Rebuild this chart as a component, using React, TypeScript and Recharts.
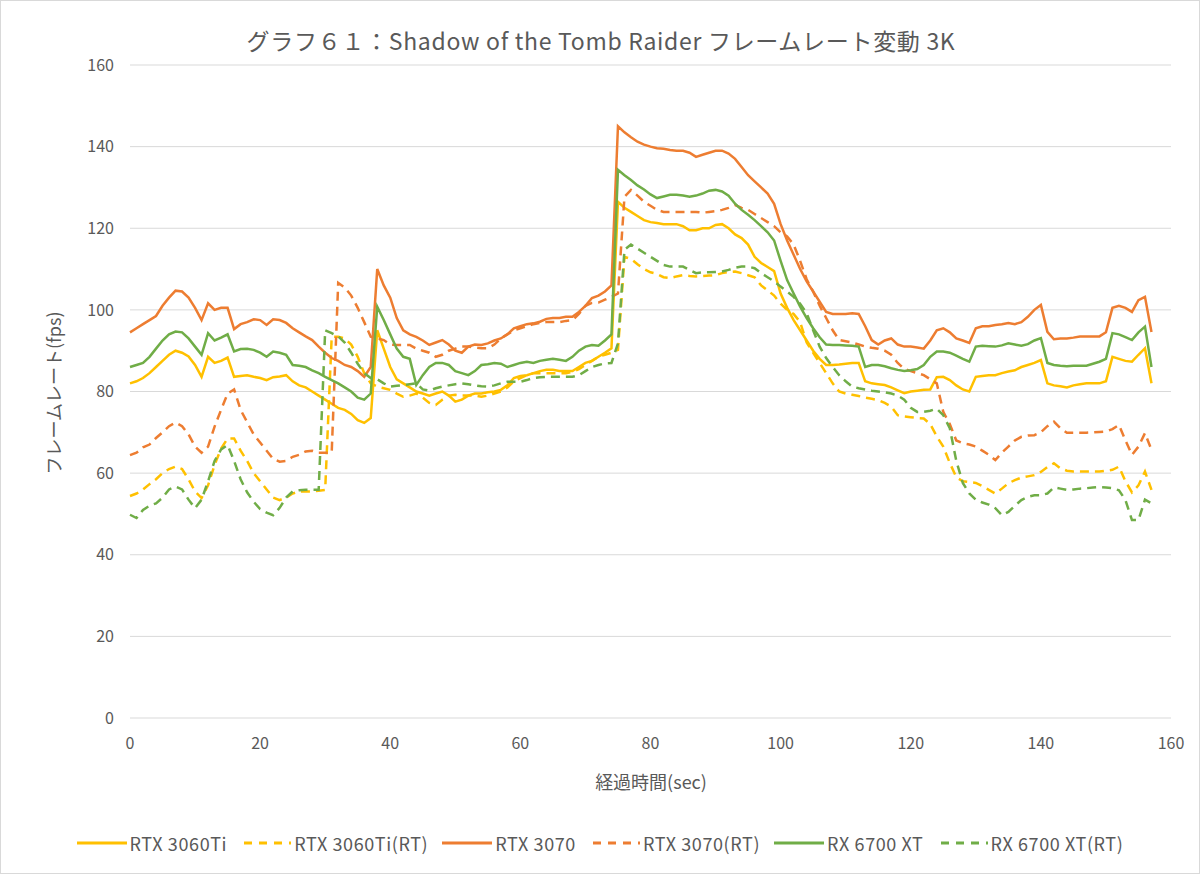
import React from "react";
import { LineChart, Line, XAxis, YAxis, CartesianGrid } from "recharts";

// フレームレート (fps), 1秒ごと 0〜157秒
const RTX3060TI = [
  82, 82.5, 83.3, 84.5, 86, 87.5, 89, 90, 89.5, 88.6, 86.5, 83.6, 88.5, 87, 87.5, 88.3, 83.6, 83.8, 84, 83.6,
  83.3, 82.8, 83.5, 83.7, 84, 82.5, 81.5, 81, 80, 79, 78, 77, 76, 75.5, 74.5, 73, 72.3, 73.5, 95, 90.5,
  86, 83, 82, 81, 80, 79.5, 79, 79.5, 80, 79, 77.5, 78, 79, 79.5, 79.5, 79.8, 80, 80.4, 81.5, 83.3,
  83.8, 84, 84.5, 85, 85.3, 85.3, 85, 85, 85, 86, 87, 87.5, 88.5, 89.5, 90.6, 126.5, 125, 124, 123, 122,
  121.5, 121.3, 121, 121, 121, 120.5, 119.5, 119.5, 120, 120, 120.8, 121, 120, 118.5, 117.6, 116, 113, 111.5, 110.5, 109.5,
  104, 100.5, 97.5, 95, 92.5, 90, 88, 86.5, 86.5, 86.6, 86.8, 87, 87, 82.5, 82, 81.8, 81.6, 81, 80.3, 79.6,
  80, 80.2, 80.4, 80.5, 83.5, 83.6, 82.8, 81.5, 80.5, 80, 83.6, 83.8, 84, 84, 84.5, 84.9, 85.2, 86, 86.5, 87,
  87.7, 82, 81.5, 81.3, 81, 81.5, 81.8, 82, 82, 82, 82.5, 88.5, 88, 87.5, 87.3, 89, 90.6, 82,
];

const RTX3060TI_RT = [
  54.4, 55, 56, 57.3, 58.5, 60, 61, 61.6, 61, 58.5, 55.5, 53.9, 57, 62, 66, 68.5, 68.5, 65.5, 63, 60,
  58, 56, 54, 53.4, 54, 55, 55.5, 55.5, 55.5, 55.7, 55.9, 93.4, 93.4, 93, 91.5, 88.5, 84.5, 82, 81.2, 80.8,
  80.4, 79.5, 78.7, 79, 79.5, 78.5, 77.2, 76.7, 78, 79, 79.2, 79, 79, 79, 78.7, 79, 79.5, 80, 81, 82.5,
  83.3, 84, 84.5, 84.5, 84.5, 84.5, 84.5, 84.5, 84.8, 85.5, 86.5, 87.5, 88.5, 89, 89.5, 90.2, 113, 112.5, 111.2, 110,
  109.2, 108.8, 108, 107.8, 108.2, 108.5, 108.3, 108.2, 108.3, 108.4, 108.5, 109, 109.3, 109.4, 109, 108.5, 108, 106, 104.8, 103.5,
  101.5, 100, 99, 97, 92, 89.5, 87, 84.5, 82, 80, 79.5, 79.2, 78.9, 78.5, 78.2, 77.9, 77.2, 76.3, 74.2, 73.9,
  73.7, 73.5, 73.4, 72, 69, 66.5, 62.5, 59, 58, 57.8, 57.6, 56.8, 55.9, 55, 56.2, 57.5, 58.3, 58.9, 59.2, 59.5,
  60.3, 61.5, 62.4, 61.2, 60.6, 60.4, 60.4, 60.4, 60.4, 60.4, 60.6, 60.8, 61.6, 58, 55.3, 57, 60.4, 55.9,
];

const RTX3070 = [
  94.5, 95.5, 96.5, 97.5, 98.5, 101, 103, 104.7, 104.5, 103, 100.5, 97.5, 101.6, 100, 100.5, 100.5, 95.3, 96.5, 97, 97.7,
  97.5, 96.3, 97.7, 97.5, 96.8, 95.5, 94.5, 93.5, 92.6, 91, 89.5, 88.2, 87.5, 86.5, 86, 85, 83.6, 86, 110, 106,
  103, 98, 95, 94, 93.4, 92.5, 91.4, 92, 92.6, 91.5, 90, 89.5, 91, 91.5, 91.4, 91.8, 92.5, 93, 94, 95.5,
  96, 96.5, 96.7, 97.1, 97.8, 98, 98, 98.3, 98.3, 99.5, 101, 102.9, 103.5, 104.5, 106, 145, 143.5, 142.3, 141.2, 140.5,
  140, 139.6, 139.5, 139.2, 139, 139, 138.5, 137.5, 138, 138.5, 139, 139, 138.3, 137, 135, 133, 131.5, 130, 128.5, 126,
  121, 117, 113.5, 110, 107, 104.5, 102, 99.5, 99, 99, 99, 99.2, 99, 96, 92.6, 91.5, 92.5, 93, 91.5, 91,
  91, 90.8, 90.5, 92.5, 95, 95.5, 94.5, 93, 92.5, 91.9, 95.5, 96, 96, 96.3, 96.5, 96.8, 96.5, 97, 98.3, 100,
  101.2, 94.6, 92.8, 93, 93, 93.2, 93.5, 93.5, 93.5, 93.5, 94.5, 100.5, 101, 100.5, 99.5, 102.4, 103.2, 94.6,
];

const RTX3070_RT = [
  64.4, 65, 66.3, 67, 68.6, 70, 71.5, 72.4, 71.5, 69.5, 66.5, 65, 66.5, 71.4, 75.5, 79.5, 80.5, 75.5, 72.5, 69.5,
  67.5, 65.5, 63.5, 62.8, 63, 64, 64.5, 65.3, 65.5, 65, 65, 65, 106.6, 105.5, 103.5, 100.5, 97, 93.4, 93, 92.6,
  91.5, 91.4, 91.4, 91.4, 90.5, 90, 89.5, 88.5, 89, 90, 90.5, 91, 91, 90.8, 90.6, 90.6, 91.5, 93, 94, 95,
  95.5, 96, 96.5, 96.8, 97, 97, 97, 97.3, 97.5, 99, 101, 101.7, 101.8, 102.5, 103.2, 104, 127.7, 129.4, 128, 126.5,
  125.5, 124.5, 124, 124, 124, 124, 124, 124, 123.8, 124, 124.2, 124.5, 125, 125.7, 125, 124.5, 123.5, 122.5, 121.5, 120.5,
  119, 118, 116, 112, 107.5, 104.5, 101, 98, 95, 92.6, 92.3, 92, 91.5, 91, 90.7, 90.5, 90, 89, 87, 85.5,
  85, 84.5, 84, 83, 82, 75, 72, 68, 67.3, 67, 66.5, 65.5, 64.5, 63.2, 65, 66.5, 68, 68.9, 69.2, 69.3,
  70, 71.5, 72.6, 71, 69.9, 69.9, 69.9, 69.9, 70, 70.1, 70.2, 70.8, 71.8, 68, 64.5, 66.5, 69.8, 65.7,
];

const RX6700XT = [
  86, 86.5, 87, 88.5, 90.5, 92.5, 94, 94.7, 94.5, 93, 91, 89, 94.3, 92.5, 93.2, 94, 89.8, 90.4, 90.5, 90.2,
  89.5, 88.5, 89.8, 89.5, 89, 86.5, 86.3, 86, 85.2, 84.5, 83.6, 82.8, 82, 81, 80, 78.5, 78, 79.5, 100.8, 97.5,
  94, 90.5, 88.5, 88, 81.6, 84, 86, 87, 87, 86.5, 85, 84.5, 84, 85, 86.5, 86.7, 87, 86.8, 86, 86.5,
  87, 87.3, 87, 87.5, 87.8, 88, 87.8, 87.5, 88.5, 90, 91, 91.4, 91.2, 92.5, 94, 134.3, 133, 131.8, 130.5, 129.5,
  128.3, 127.4, 127.8, 128.2, 128.2, 128, 127.7, 128, 128.5, 129.2, 129.4, 129, 128, 126, 124.5, 123.3, 122, 120.5, 119, 117,
  112, 107.3, 104, 100.8, 98, 95.5, 93.3, 91.5, 91.4, 91.4, 91.3, 91.2, 91, 86, 86.5, 86.5, 86.2, 85.7, 85.3, 85,
  85.2, 85.5, 86.5, 88.5, 89.8, 89.8, 89.5, 88.8, 88, 87.3, 91, 91.2, 91.1, 91, 91.3, 91.8, 91.5, 91.2, 91.6, 92.5,
  93.1, 87, 86.5, 86.3, 86.2, 86.3, 86.3, 86.3, 86.8, 87.3, 88, 94.3, 94, 93.3, 92.6, 94.5, 95.9, 86,
];

const RX6700XT_RT = [
  49.8, 49, 51, 52, 52.6, 54, 56, 56.7, 56, 53.5, 51.4, 53.5, 58, 63, 65.8, 66.9, 63, 58.5, 55.3, 53,
  51.2, 50.3, 49.7, 51.5, 54, 55.5, 55.8, 55.9, 55.9, 55.9, 95, 94.3, 93.5, 92, 89.5, 86.8, 84.5, 83.3, 83, 82,
  81.2, 81.4, 81.6, 81.8, 82, 80.5, 80.2, 80.8, 81.2, 81.5, 81.8, 82, 81.8, 81.5, 81.3, 81.2, 81.5, 82, 82.4, 82.4,
  82.4, 82.8, 83.3, 83.5, 83.6, 83.6, 83.6, 83.6, 83.6, 84, 85, 86, 86.5, 86.9, 87, 91.8, 114.7, 116, 115, 114,
  113, 112, 111, 110.6, 110.6, 110.6, 109.8, 109, 109.2, 109.2, 109.3, 109.4, 109.8, 110.3, 110.6, 110.6, 110.2, 109, 108, 107,
  105.7, 104.5, 103.2, 101.5, 99.2, 95, 91, 88.2, 86, 84, 82.5, 81.2, 80.8, 80.5, 80.2, 80, 79.8, 79.5, 79, 78,
  76, 75, 75, 75.3, 75.8, 74.2, 71, 63, 57.6, 55, 53.5, 52.8, 52.3, 51.4, 49.7, 50.5, 52, 53.4, 54.2, 54.6,
  54.6, 55, 56.5, 56.2, 55.9, 56, 56.2, 56.3, 56.5, 56.6, 56.5, 56.3, 55.8, 53.4, 48.5, 48.5, 53.5, 52.6,
];

const X_TICKS = [0, 20, 40, 60, 80, 100, 120, 140, 160];
const Y_TICKS = [0, 20, 40, 60, 80, 100, 120, 140, 160];

const SERIES = [
  { key: "a", name: "RTX 3060Ti", values: RTX3060TI, color: "#FFC000", dashed: false },
  { key: "b", name: "RTX 3060Ti(RT)", values: RTX3060TI_RT, color: "#FFC000", dashed: true },
  { key: "c", name: "RTX 3070", values: RTX3070, color: "#ED7D31", dashed: false },
  { key: "d", name: "RTX 3070(RT)", values: RTX3070_RT, color: "#ED7D31", dashed: true },
  { key: "e", name: "RX 6700 XT", values: RX6700XT, color: "#70AD47", dashed: false },
  { key: "f", name: "RX 6700 XT(RT)", values: RX6700XT_RT, color: "#70AD47", dashed: true },
];

const data = RTX3060TI.map((_, i) => {
  const row: Record<string, number> = { t: i };
  SERIES.forEach((s) => {
    row[s.key] = s.values[i];
  });
  return row;
});

const FONT = "'Noto Sans CJK JP', 'Noto Sans', sans-serif";
const TEXT = "#595959";

function LegendRow() {
  return (
    <div
      style={{
        display: "flex",
        justifyContent: "center",
        alignItems: "center",
        fontFamily: FONT,
        fontSize: 18,
        letterSpacing: 0.6,
        color: TEXT,
      }}
    >
      {SERIES.map((s, i) => (
        <div key={s.key} style={{ display: "flex", alignItems: "center", marginLeft: i === 0 ? 0 : 14 }}>
          <svg width={50} height={10} style={{ marginRight: 3 }}>
            <line
              x1={0}
              y1={5}
              x2={50}
              y2={5}
              stroke={s.color}
              strokeWidth={3}
              strokeDasharray={s.dashed ? "8 7" : undefined}
              strokeDashoffset={s.dashed ? -3 : 0}
            />
          </svg>
          <span>{s.name}</span>
        </div>
      ))}
    </div>
  );
}

export default function App() {
  return (
    <div
      style={{
        position: "relative",
        width: 1200,
        height: 874,
        boxSizing: "border-box",
        border: "1px solid #d9d9d9",
        background: "#fff",
        fontFamily: FONT,
      }}
    >
      <style>{"body{margin:0}"}</style>
      <div
        style={{
          position: "absolute",
          top: 22,
          left: 0,
          width: 1200,
          textAlign: "center",
          fontSize: 23,
          letterSpacing: 0.7,
          color: TEXT,
        }}
      >
        グラフ６１：Shadow of the Tomb Raider フレームレート変動 3K
      </div>
      <div style={{ position: "absolute", top: 767, left: 130, width: 1040, textAlign: "center", fontSize: 18, color: TEXT }}>
        経過時間(sec)
      </div>
      <div
        style={{
          position: "absolute",
          top: 392,
          left: 52,
          transform: "translate(-50%, -50%) rotate(-90deg)",
          whiteSpace: "nowrap",
          fontSize: 18,
          color: TEXT,
        }}
      >
        フレームレート(fps)
      </div>
      <div style={{ position: "absolute", top: 0, left: 0 }}>
        <LineChart width={1198} height={872} data={data} margin={{ top: 64, right: 28, bottom: 125, left: 0 }}>
          <CartesianGrid vertical={false} stroke="#d9d9d9" strokeWidth={1} />
          <XAxis
            dataKey="t"
            type="number"
            domain={[0, 160]}
            ticks={X_TICKS}
            height={30}
            axisLine={false}
            tickLine={false}
            tickSize={0}
            tickMargin={20}
            tick={{ fontSize: 16, fill: TEXT, fontFamily: FONT }}
            interval={0}
          />
          <YAxis
            type="number"
            domain={[0, 160]}
            ticks={Y_TICKS}
            width={129}
            axisLine={false}
            tickLine={false}
            tickSize={0}
            tickMargin={16}
            tick={{ fontSize: 16, fill: TEXT, fontFamily: FONT }}
            interval={0}
          />
          {SERIES.map((s) => (
            <Line
              key={s.key}
              type="linear"
              dataKey={s.key}
              name={s.name}
              stroke={s.color}
              strokeWidth={2.5}
              strokeDasharray={s.dashed ? "9 6" : undefined}
              dot={false}
              activeDot={false}
              isAnimationActive={false}
            />
          ))}
        </LineChart>
      </div>
      <div style={{ position: "absolute", top: 829, left: 0, width: 1198 }}>
        <LegendRow />
      </div>
    </div>
  );
}
